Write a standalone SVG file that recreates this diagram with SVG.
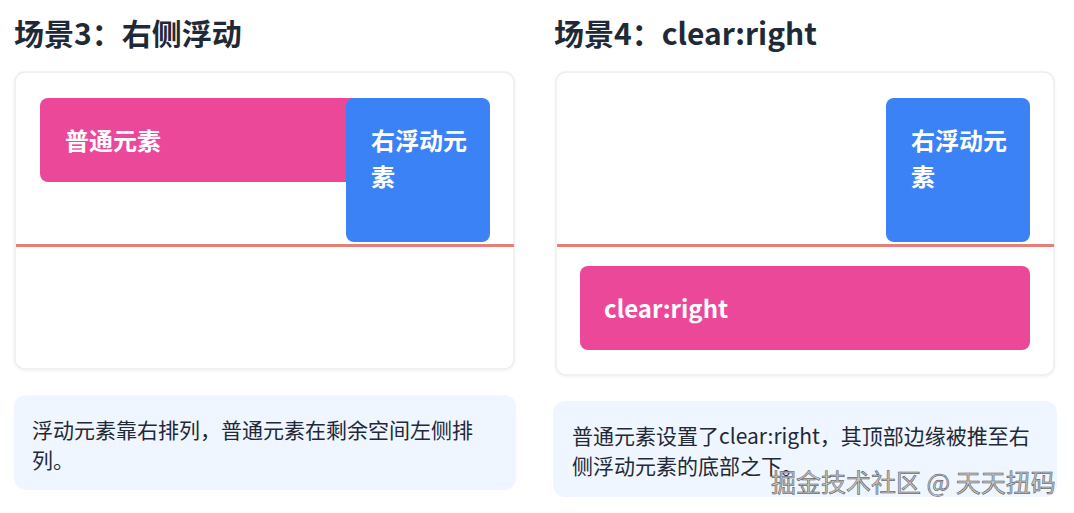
<svg xmlns="http://www.w3.org/2000/svg" width="1074" height="513" viewBox="0 0 1074 513">
<defs>
<style>
.title{font-family:"Noto Sans CJK SC","Noto Sans",sans-serif;font-weight:700;font-size:30px;fill:#1f2937}
.card{fill:#ffffff;stroke:#eceef1;stroke-width:1.5}
.cap{fill:#eff6ff}
.capt{font-family:"Noto Sans CJK SC","Noto Sans",sans-serif;font-size:21px;fill:#1f2937}
.lbl{font-family:"Noto Sans CJK SC","Noto Sans",sans-serif;font-weight:700;font-size:24px;fill:#ffffff}
.pink{fill:#ec4899}
.blue{fill:#3b82f6}
.line{stroke:#e57f78;stroke-width:3}
.wm{font-family:"Noto Sans CJK SC",sans-serif;font-size:25px;fill:#c4c4c4;stroke:#4a4a4a;stroke-width:0.5}
</style>
<filter id="sh" x="-5%" y="-5%" width="110%" height="115%">
<feDropShadow dx="0" dy="1" stdDeviation="1.5" flood-color="#000" flood-opacity="0.06"/>
</filter>
</defs>
<rect width="1074" height="513" fill="#ffffff"/>

<g id="scene3">
<text class="title" x="14" y="45">场景3：右侧浮动</text>
<rect class="card" x="15" y="72" width="499" height="297" rx="10" filter="url(#sh)"/>
<g id="s3-normal">
<rect class="pink" x="40" y="98" width="320" height="84" rx="8"/>
<text class="lbl" x="65" y="150">普通元素</text>
</g>
<g id="s3-float">
<rect class="blue" x="346" y="98" width="144" height="144" rx="8"/>
<text class="lbl" x="371" y="150">右浮动元</text>
<text class="lbl" x="371" y="186">素</text>
</g>
<g id="s3-caption">
<rect class="cap" x="14" y="395" width="502" height="95" rx="12"/>
<text class="capt" x="32" y="438">浮动元素靠右排列，普通元素在剩余空间左侧排</text>
<text class="capt" x="32" y="468">列。</text>
</g>
</g>

<g id="scene4">
<text class="title" x="554" y="45">场景4：clear:right</text>
<rect class="card" x="556" y="72" width="498" height="303" rx="10" filter="url(#sh)"/>
<g id="s4-float">
<rect class="blue" x="886" y="98" width="144" height="144" rx="8"/>
<text class="lbl" x="911" y="150">右浮动元</text>
<text class="lbl" x="911" y="186">素</text>
</g>
<g id="s4-clear">
<rect class="pink" x="580" y="266" width="450" height="84" rx="8"/>
<text class="lbl" x="604" y="318">clear:right</text>
</g>
<g id="s4-caption">
<rect class="cap" x="553" y="401" width="504" height="96" rx="12"/>
<text class="capt" x="572" y="444">普通元素设置了clear:right，其顶部边缘被推至右</text>
<text class="capt" x="572" y="474">侧浮动元素的底部之下。</text>
</g>
</g>

<g id="connectors">
<line class="line" x1="16" y1="245.5" x2="514" y2="245.5"/>
<line class="line" x1="557" y1="245.5" x2="1054" y2="245.5"/>
</g>

<text class="wm" x="771" y="492">掘金技术社区 @ 天天扭码</text>
</svg>
